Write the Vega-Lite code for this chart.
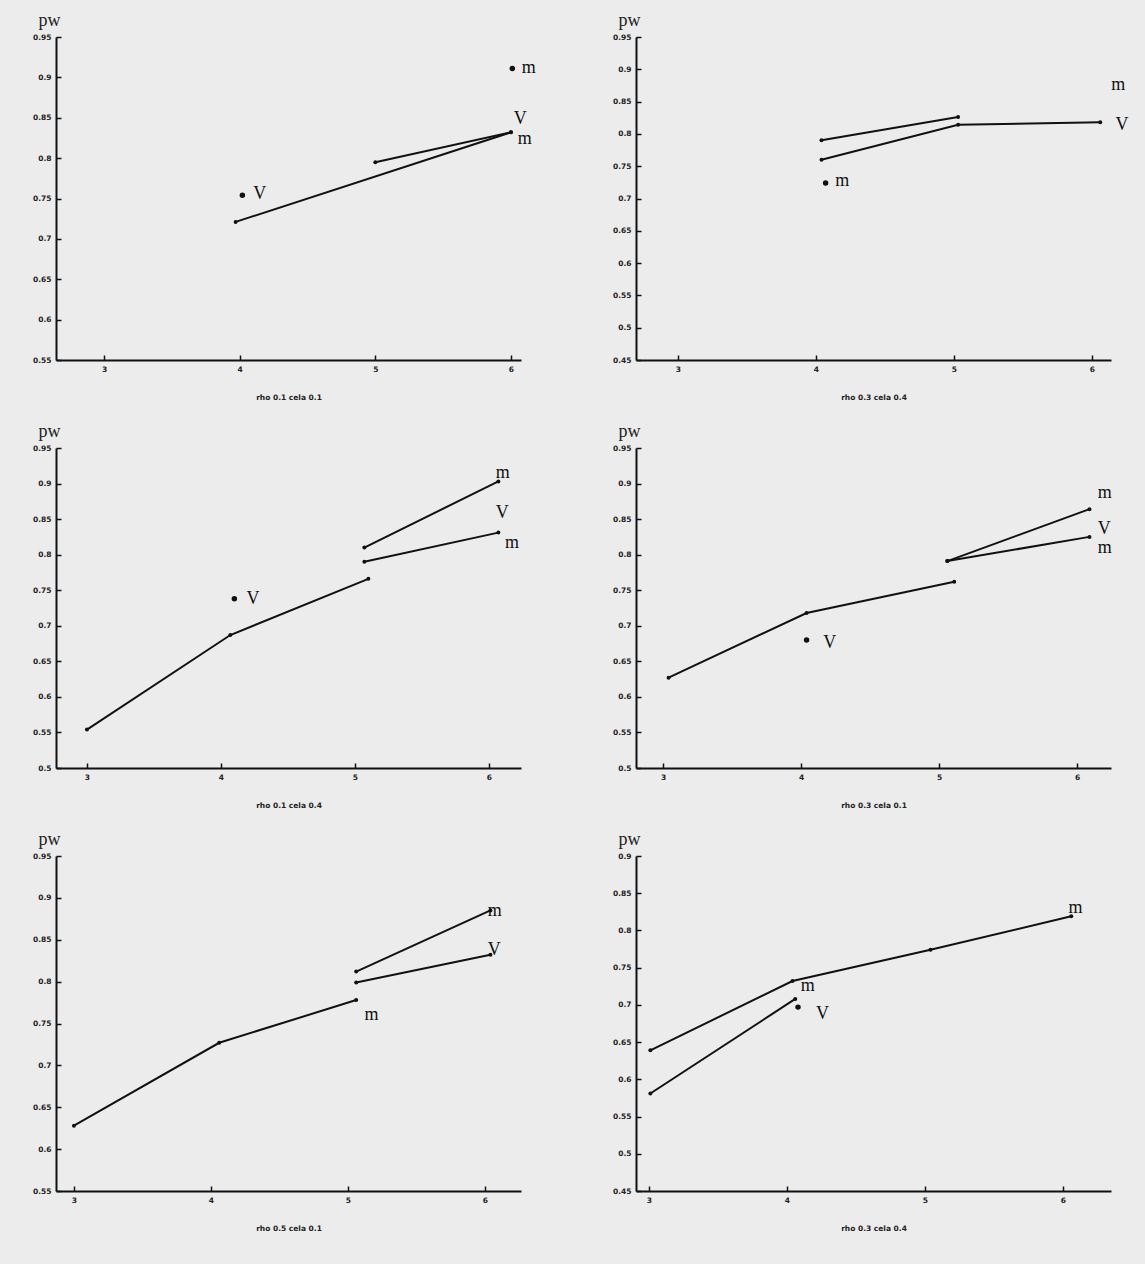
{
  "$schema": "https://vega.github.io/schema/vega-lite/v6.json",
  "background": "#ececec",
  "padding": {"left": 32, "top": 11, "right": 17, "bottom": 39},
  "datasets": {
    "lines": [
      {"p": 1, "s": "a", "x": 3.97, "pw": 0.721},
      {"p": 1, "s": "a", "x": 6.0, "pw": 0.832},
      {"p": 1, "s": "b", "x": 5.0, "pw": 0.795},
      {"p": 1, "s": "b", "x": 6.0, "pw": 0.832},
      {"p": 2, "s": "a", "x": 4.04, "pw": 0.79},
      {"p": 2, "s": "a", "x": 5.03, "pw": 0.826},
      {"p": 2, "s": "b", "x": 4.04, "pw": 0.76},
      {"p": 2, "s": "b", "x": 5.03, "pw": 0.814},
      {"p": 2, "s": "b", "x": 6.06, "pw": 0.818},
      {"p": 3, "s": "a", "x": 3.0, "pw": 0.554},
      {"p": 3, "s": "a", "x": 4.07, "pw": 0.687},
      {"p": 3, "s": "a", "x": 5.1, "pw": 0.766},
      {"p": 3, "s": "b", "x": 5.07, "pw": 0.81},
      {"p": 3, "s": "b", "x": 6.07, "pw": 0.903},
      {"p": 3, "s": "c", "x": 5.07, "pw": 0.79},
      {"p": 3, "s": "c", "x": 6.07, "pw": 0.831},
      {"p": 4, "s": "a", "x": 3.04, "pw": 0.627},
      {"p": 4, "s": "a", "x": 4.04, "pw": 0.718},
      {"p": 4, "s": "a", "x": 5.11, "pw": 0.762},
      {"p": 4, "s": "b", "x": 5.06, "pw": 0.791},
      {"p": 4, "s": "b", "x": 6.09, "pw": 0.864},
      {"p": 4, "s": "c", "x": 5.06, "pw": 0.791},
      {"p": 4, "s": "c", "x": 6.09, "pw": 0.825},
      {"p": 5, "s": "a", "x": 3.0, "pw": 0.628},
      {"p": 5, "s": "a", "x": 4.06, "pw": 0.727},
      {"p": 5, "s": "a", "x": 5.06, "pw": 0.778},
      {"p": 5, "s": "b", "x": 5.06, "pw": 0.812},
      {"p": 5, "s": "b", "x": 6.04, "pw": 0.885},
      {"p": 5, "s": "c", "x": 5.06, "pw": 0.799},
      {"p": 5, "s": "c", "x": 6.04, "pw": 0.832},
      {"p": 6, "s": "a", "x": 3.01, "pw": 0.639},
      {"p": 6, "s": "a", "x": 4.04, "pw": 0.732},
      {"p": 6, "s": "a", "x": 5.04, "pw": 0.774},
      {"p": 6, "s": "a", "x": 6.06, "pw": 0.819},
      {"p": 6, "s": "b", "x": 3.01, "pw": 0.581},
      {"p": 6, "s": "b", "x": 4.06, "pw": 0.708}
    ],
    "dots": [
      {"p": 1, "x": 4.02, "pw": 0.754},
      {"p": 1, "x": 6.01, "pw": 0.911},
      {"p": 2, "x": 4.07, "pw": 0.724},
      {"p": 3, "x": 4.1, "pw": 0.738},
      {"p": 4, "x": 4.04, "pw": 0.68},
      {"p": 6, "x": 4.08, "pw": 0.697}
    ],
    "labels": [
      {"p": 1, "x": 6.08, "pw": 0.912, "t": "m"},
      {"p": 1, "x": 4.1, "pw": 0.755, "t": "V"},
      {"p": 1, "x": 6.02, "pw": 0.849, "t": "V"},
      {"p": 1, "x": 6.05, "pw": 0.824, "t": "m"},
      {"p": 2, "x": 4.14, "pw": 0.727, "t": "m"},
      {"p": 2, "x": 6.14, "pw": 0.876, "t": "m"},
      {"p": 2, "x": 6.17, "pw": 0.814, "t": "V"},
      {"p": 3, "x": 6.05, "pw": 0.915, "t": "m"},
      {"p": 3, "x": 4.19, "pw": 0.738, "t": "V"},
      {"p": 3, "x": 6.05, "pw": 0.858, "t": "V"},
      {"p": 3, "x": 6.12, "pw": 0.817, "t": "m"},
      {"p": 4, "x": 4.16, "pw": 0.676, "t": "V"},
      {"p": 4, "x": 6.15, "pw": 0.887, "t": "m"},
      {"p": 4, "x": 6.15, "pw": 0.836, "t": "V"},
      {"p": 4, "x": 6.15, "pw": 0.81, "t": "m"},
      {"p": 5, "x": 5.12, "pw": 0.76, "t": "m"},
      {"p": 5, "x": 6.02, "pw": 0.884, "t": "m"},
      {"p": 5, "x": 6.02, "pw": 0.838, "t": "V"},
      {"p": 6, "x": 6.04, "pw": 0.83, "t": "m"},
      {"p": 6, "x": 4.1, "pw": 0.726, "t": "m"},
      {"p": 6, "x": 4.21, "pw": 0.688, "t": "V"}
    ]
  },
  "concat": [
    {
      "width": 465, "height": 323,
      "encoding": {
        "x": {"field": "x", "type": "quantitative", "scale": {"domain": [2.646, 6.074], "nice": false, "zero": false}, "axis": {"values": [3, 4, 5, 6], "title": "rho 0.1 cela 0.1"}},
        "y": {"field": "pw", "type": "quantitative", "scale": {"domain": [0.55, 0.95], "nice": false, "zero": false}, "axis": {"values": [0.55, 0.6, 0.65, 0.7, 0.75, 0.8, 0.85, 0.9, 0.95], "format": ".2~f", "title": "pw"}}
      },
      "layer": [
        {"data": {"name": "lines"}, "transform": [{"filter": "datum.p == 1"}], "mark": {"type": "line", "color": "#111", "strokeWidth": 2}, "encoding": {"detail": {"field": "s"}}},
        {"data": {"name": "lines"}, "transform": [{"filter": "datum.p == 1"}], "mark": {"type": "point", "filled": true, "color": "#111", "size": 16, "opacity": 1}},
        {"data": {"name": "dots"}, "transform": [{"filter": "datum.p == 1"}], "mark": {"type": "point", "filled": true, "color": "#111", "size": 30, "opacity": 1}},
        {"data": {"name": "labels"}, "transform": [{"filter": "datum.p == 1"}], "mark": {"type": "text", "align": "left", "baseline": "middle", "font": "Liberation Serif", "fontSize": 18, "color": "#111"}, "encoding": {"text": {"field": "t"}}}
      ]
    },
    {
      "width": 475, "height": 323,
      "encoding": {
        "x": {"field": "x", "type": "quantitative", "scale": {"domain": [2.696, 6.138], "nice": false, "zero": false}, "axis": {"values": [3, 4, 5, 6], "title": "rho 0.3 cela 0.4"}},
        "y": {"field": "pw", "type": "quantitative", "scale": {"domain": [0.45, 0.95], "nice": false, "zero": false}, "axis": {"values": [0.45, 0.5, 0.55, 0.6, 0.65, 0.7, 0.75, 0.8, 0.85, 0.9, 0.95], "format": ".2~f", "title": "pw"}}
      },
      "layer": [
        {"data": {"name": "lines"}, "transform": [{"filter": "datum.p == 2"}], "mark": {"type": "line", "color": "#111", "strokeWidth": 2}, "encoding": {"detail": {"field": "s"}}},
        {"data": {"name": "lines"}, "transform": [{"filter": "datum.p == 2"}], "mark": {"type": "point", "filled": true, "color": "#111", "size": 16, "opacity": 1}},
        {"data": {"name": "dots"}, "transform": [{"filter": "datum.p == 2"}], "mark": {"type": "point", "filled": true, "color": "#111", "size": 30, "opacity": 1}},
        {"data": {"name": "labels"}, "transform": [{"filter": "datum.p == 2"}], "mark": {"type": "text", "align": "left", "baseline": "middle", "font": "Liberation Serif", "fontSize": 18, "color": "#111"}, "encoding": {"text": {"field": "t"}}}
      ]
    },
    {
      "width": 465, "height": 320,
      "encoding": {
        "x": {"field": "x", "type": "quantitative", "scale": {"domain": [2.769, 6.239], "nice": false, "zero": false}, "axis": {"values": [3, 4, 5, 6], "title": "rho 0.1 cela 0.4"}},
        "y": {"field": "pw", "type": "quantitative", "scale": {"domain": [0.5, 0.95], "nice": false, "zero": false}, "axis": {"values": [0.5, 0.55, 0.6, 0.65, 0.7, 0.75, 0.8, 0.85, 0.9, 0.95], "format": ".2~f", "title": "pw"}}
      },
      "layer": [
        {"data": {"name": "lines"}, "transform": [{"filter": "datum.p == 3"}], "mark": {"type": "line", "color": "#111", "strokeWidth": 2}, "encoding": {"detail": {"field": "s"}}},
        {"data": {"name": "lines"}, "transform": [{"filter": "datum.p == 3"}], "mark": {"type": "point", "filled": true, "color": "#111", "size": 16, "opacity": 1}},
        {"data": {"name": "dots"}, "transform": [{"filter": "datum.p == 3"}], "mark": {"type": "point", "filled": true, "color": "#111", "size": 30, "opacity": 1}},
        {"data": {"name": "labels"}, "transform": [{"filter": "datum.p == 3"}], "mark": {"type": "text", "align": "left", "baseline": "middle", "font": "Liberation Serif", "fontSize": 18, "color": "#111"}, "encoding": {"text": {"field": "t"}}}
      ]
    },
    {
      "width": 475, "height": 320,
      "encoding": {
        "x": {"field": "x", "type": "quantitative", "scale": {"domain": [2.804, 6.246], "nice": false, "zero": false}, "axis": {"values": [3, 4, 5, 6], "title": "rho 0.3 cela 0.1"}},
        "y": {"field": "pw", "type": "quantitative", "scale": {"domain": [0.5, 0.95], "nice": false, "zero": false}, "axis": {"values": [0.5, 0.55, 0.6, 0.65, 0.7, 0.75, 0.8, 0.85, 0.9, 0.95], "format": ".2~f", "title": "pw"}}
      },
      "layer": [
        {"data": {"name": "lines"}, "transform": [{"filter": "datum.p == 4"}], "mark": {"type": "line", "color": "#111", "strokeWidth": 2}, "encoding": {"detail": {"field": "s"}}},
        {"data": {"name": "lines"}, "transform": [{"filter": "datum.p == 4"}], "mark": {"type": "point", "filled": true, "color": "#111", "size": 16, "opacity": 1}},
        {"data": {"name": "dots"}, "transform": [{"filter": "datum.p == 4"}], "mark": {"type": "point", "filled": true, "color": "#111", "size": 30, "opacity": 1}},
        {"data": {"name": "labels"}, "transform": [{"filter": "datum.p == 4"}], "mark": {"type": "text", "align": "left", "baseline": "middle", "font": "Liberation Serif", "fontSize": 18, "color": "#111"}, "encoding": {"text": {"field": "t"}}}
      ]
    },
    {
      "width": 465, "height": 335,
      "encoding": {
        "x": {"field": "x", "type": "quantitative", "scale": {"domain": [2.869, 6.263], "nice": false, "zero": false}, "axis": {"values": [3, 4, 5, 6], "title": "rho 0.5 cela 0.1"}},
        "y": {"field": "pw", "type": "quantitative", "scale": {"domain": [0.55, 0.95], "nice": false, "zero": false}, "axis": {"values": [0.55, 0.6, 0.65, 0.7, 0.75, 0.8, 0.85, 0.9, 0.95], "format": ".2~f", "title": "pw"}}
      },
      "layer": [
        {"data": {"name": "lines"}, "transform": [{"filter": "datum.p == 5"}], "mark": {"type": "line", "color": "#111", "strokeWidth": 2}, "encoding": {"detail": {"field": "s"}}},
        {"data": {"name": "lines"}, "transform": [{"filter": "datum.p == 5"}], "mark": {"type": "point", "filled": true, "color": "#111", "size": 16, "opacity": 1}},
        {"data": {"name": "labels"}, "transform": [{"filter": "datum.p == 5"}], "mark": {"type": "text", "align": "left", "baseline": "middle", "font": "Liberation Serif", "fontSize": 18, "color": "#111"}, "encoding": {"text": {"field": "t"}}}
      ]
    },
    {
      "width": 475, "height": 335,
      "encoding": {
        "x": {"field": "x", "type": "quantitative", "scale": {"domain": [2.906, 6.348], "nice": false, "zero": false}, "axis": {"values": [3, 4, 5, 6], "title": "rho 0.3 cela 0.4"}},
        "y": {"field": "pw", "type": "quantitative", "scale": {"domain": [0.45, 0.9], "nice": false, "zero": false}, "axis": {"values": [0.45, 0.5, 0.55, 0.6, 0.65, 0.7, 0.75, 0.8, 0.85, 0.9], "format": ".2~f", "title": "pw"}}
      },
      "layer": [
        {"data": {"name": "lines"}, "transform": [{"filter": "datum.p == 6"}], "mark": {"type": "line", "color": "#111", "strokeWidth": 2}, "encoding": {"detail": {"field": "s"}}},
        {"data": {"name": "lines"}, "transform": [{"filter": "datum.p == 6"}], "mark": {"type": "point", "filled": true, "color": "#111", "size": 16, "opacity": 1}},
        {"data": {"name": "dots"}, "transform": [{"filter": "datum.p == 6"}], "mark": {"type": "point", "filled": true, "color": "#111", "size": 30, "opacity": 1}},
        {"data": {"name": "labels"}, "transform": [{"filter": "datum.p == 6"}], "mark": {"type": "text", "align": "left", "baseline": "middle", "font": "Liberation Serif", "fontSize": 18, "color": "#111"}, "encoding": {"text": {"field": "t"}}}
      ]
    }
  ],
  "columns": 2,
  "spacing": {"row": 88, "column": 115},
  "bounds": "flush",
  "config": {
    "view": {"stroke": null},
    "axis": {
      "grid": false,
      "domainColor": "#111",
      "domainWidth": 2,
      "tickColor": "#111",
      "tickWidth": 1.5,
      "tickSize": -5,
      "labelFont": "DejaVu Sans",
      "labelFontSize": 7.5,
      "labelFontWeight": "bold",
      "labelColor": "#222",
      "titleColor": "#222"
    },
    "axisX": {
      "labelPadding": 10,
      "titleFont": "DejaVu Sans",
      "titleFontSize": 7.5,
      "titleFontWeight": "bold",
      "titlePadding": 21
    },
    "axisY": {
      "labelPadding": 10,
      "titleFont": "Liberation Serif",
      "titleFontSize": 18,
      "titleFontWeight": "normal",
      "titleAngle": 0,
      "titleAlign": "left",
      "titleBaseline": "alphabetic",
      "titleX": -18,
      "titleY": -12
    }
  }
}
